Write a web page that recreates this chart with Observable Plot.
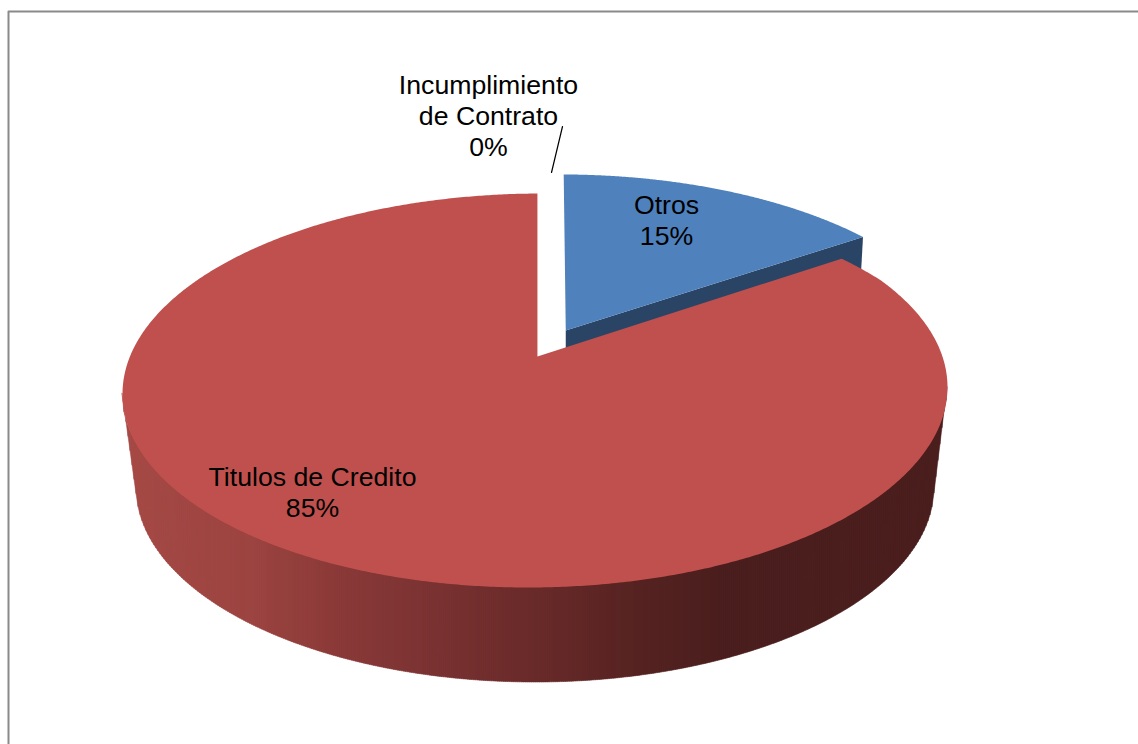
<!DOCTYPE html>
<html>
<head>
<meta charset="utf-8">
<script src="https://cdn.jsdelivr.net/npm/d3@7"></script>
<script src="https://cdn.jsdelivr.net/npm/@observablehq/plot@0.6"></script>
<style>
html,body{margin:0;padding:0;background:#fff;overflow:hidden}
svg{display:block}
</style>
</head>
<body>
<div id="chart"></div>
<script>
const categories = ["Otros", "Incumplimiento de Contrato", "Titulos de Credito"];
const values = [15.4, 0, 84.6];
const sliceColors = ["#4f81bd", "#ffffff", "#c0504d"];
const wallColor = "#2a4465";
const labelLines = [["Otros"], ["Incumplimiento", "de Contrato"], ["Titulos de Credito"]];

const W = 1138, H = 744;
// Perspective view of the pie's top face
const view = {cx: 534.5, cy: 356, rx: 406.3, ry: 191.1, k: 0.1726, skew: 0.008};
const project = (u, v, skew = 0) => {
  const s = 1 - view.k * v;
  const x = view.cx + view.rx * u / s;
  const ramp = x < view.cx ? 1 : Math.min(1, Math.max(0, (v + 0.56) / 0.15));
  return {x, y: view.cy + view.ry * v / s - skew * ramp * (x - view.cx)};
};
const total = d3.sum(values);
const rotation = 0.4 * Math.PI / 180;
const arcs = d3.pie().sort(null).value(d => d).startAngle(rotation).endAngle(rotation + 2 * Math.PI)(values);
const rimPoint = (a, o = [0, 0], skew = 0) => project(o[0] + Math.sin(a), o[1] - Math.cos(a), skew);

function wedge(arc, rimOffset, apexOffset, skew, steps = 240) {
  const apex = project(apexOffset[0], apexOffset[1]);
  const pts = [apex];
  for (let i = 0; i <= steps; i++) {
    pts.push(rimPoint(arc.startAngle + (arc.endAngle - arc.startAngle) * i / steps, rimOffset, skew));
  }
  pts.push(apex);
  return pts;
}

const blueArc = arcs[0], redArc = arcs[2];
const explode = 0.16, explodeDir = 29 * Math.PI / 180;
const blueOffset = [explode * Math.sin(explodeDir), -explode * Math.cos(explodeDir)];
const redApex = [0.006, 0];
const blueTop = wedge(blueArc, blueOffset, blueOffset, 0);
const redTop = wedge(redArc, [0, 0], redApex, view.skew, 720);

// Blue slice's cut face, hidden in part by the red slice
const depth = 36;
const apexB = project(blueOffset[0], blueOffset[1]);
const cornerB = rimPoint(blueArc.endAngle, blueOffset);
const blueWall = [apexB, cornerB, {x: cornerB.x - 2, y: cornerB.y + depth}, {x: apexB.x, y: apexB.y + depth}, apexB];

// Red slice's outer wall, drawn as vertical bands shaded left to right
const topE = {cx: 534.5, cy: 390, rx: 412.5, ry: 190};
const botE = {cx: 535, cy: 487, rx: 399, ry: 195, join: 398};
const joinY = botE.cy + botE.ry * Math.sqrt(1 - (botE.join / botE.rx) ** 2);
const upper = x => topE.cy + topE.ry * Math.sqrt(Math.max(0, 1 - ((x - topE.cx) / topE.rx) ** 2)) - view.skew * (x - topE.cx);
const lower = x => {
  const l = botE.cx - botE.join, r = botE.cx + botE.join;
  const el = topE.cx - topE.rx, er = topE.cx + topE.rx;
  if (x < l) return upper(el) + (x - el) * (joinY - upper(el)) / (l - el);
  if (x > r) return upper(er) + (er - x) * (joinY - upper(er)) / (er - r);
  return botE.cy + botE.ry * Math.sqrt(1 - ((x - botE.cx) / botE.rx) ** 2);
};
const wall = [];
const x0 = topE.cx - topE.rx, x1 = topE.cx + topE.rx, bandW = 2;
for (let x = x0; x < x1; x += bandW) {
  const xe = Math.min(x + bandW, x1);
  for (const xx of [x, xe]) wall.push({band: x, x: xx, y1: upper(xx), y2: lower(xx)});
}

const pct = v => `${Math.round(v / total * 100)}%`;
const labels = [
  {i: 1, cx: 488, cy: 85},
  {i: 0, cx: 666, cy: 205},
  {i: 2, cx: 312, cy: 477}
].flatMap(({i, cx, cy}) =>
  [...labelLines[i], pct(values[i])].map((t, n) => ({t, x: cx, y: cy + n * 31}))
);

const leader = [{x: 562, y: 126}, {x: 551, y: 172}];
const frame = [{x: 8, y: H + 5}, {x: 8, y: 11}, {x: W + 5, y: 11}];

const chart = Plot.plot({
  width: W, height: H, margin: 0,
  x: {domain: [0, W], range: [0, W], axis: null},
  y: {domain: [0, H], range: [0, H], axis: null},
  color: {
    type: "linear",
    domain: [120, 250, 330, 400, 520, 640, 720, 950],
    range: ["#a64a46", "#9c4441", "#8c3b39", "#803535", "#6c2c2b", "#562322", "#4b1f1e", "#4b1f1e"],
    interpolate: "rgb"
  },
  marks: [
    Plot.line(frame, {x: "x", y: "y", stroke: "#8a8a8a", strokeWidth: 2}),
    Plot.line(blueWall, {x: "x", y: "y", fill: wallColor, stroke: "none"}),
    Plot.line(blueTop, {x: "x", y: "y", fill: sliceColors[0], stroke: "none"}),
    Plot.areaY(wall, {x: "x", y1: "y1", y2: "y2", z: "band", fill: "band", stroke: "band", strokeWidth: 0.5}),
    Plot.line(redTop, {x: "x", y: "y", fill: sliceColors[2], stroke: "none"}),
    Plot.line(leader, {x: "x", y: "y", stroke: "#000", strokeWidth: 1.2}),
    Plot.text(labels, {x: "x", y: "y", text: "t", fill: "#000", fontSize: 26.67, fontFamily: "Liberation Sans, Arial, sans-serif", textAnchor: "middle", lineAnchor: "middle"})
  ]
});
document.getElementById("chart").append(chart);
</script>
</body>
</html>
